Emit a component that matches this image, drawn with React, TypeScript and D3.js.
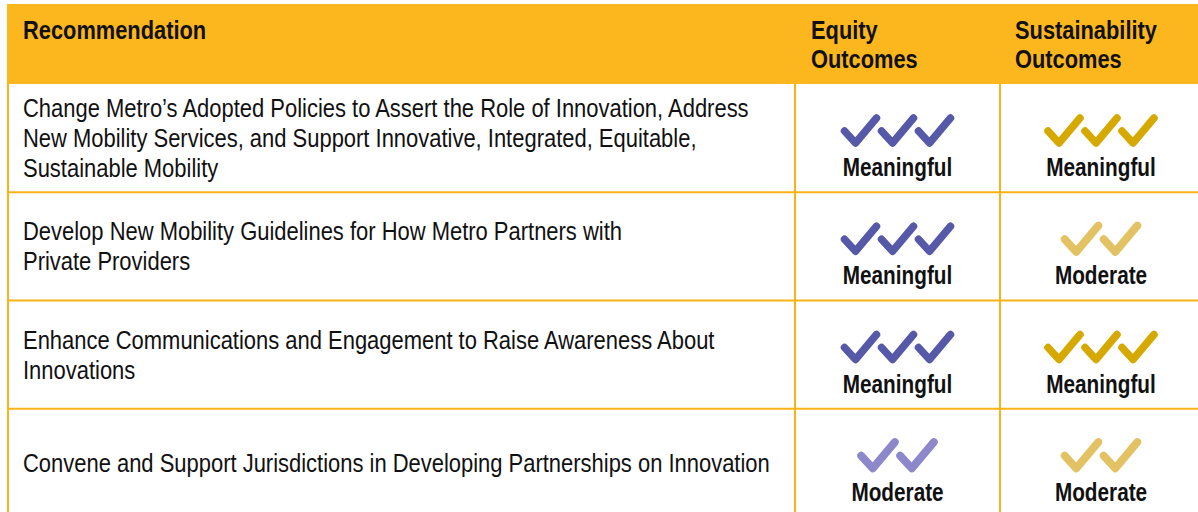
import React, { useRef, useEffect } from "react";
import * as d3 from "d3";

// table content
const headers = ["Recommendation", "Equity\nOutcomes", "Sustainability\nOutcomes"];
const recommendations = [
  [
    "Change Metro’s Adopted Policies to Assert the Role of Innovation, Address",
    "New Mobility Services, and Support Innovative, Integrated, Equitable,",
    "Sustainable Mobility",
  ],
  ["Develop New Mobility Guidelines for How Metro Partners with", "Private Providers"],
  ["Enhance Communications and Engagement to Raise Awareness About", "Innovations"],
  ["Convene and Support Jurisdictions in Developing Partnerships on Innovation"],
];
const equityLevels = ["Meaningful", "Meaningful", "Meaningful", "Moderate"];
const sustainabilityLevels = ["Meaningful", "Moderate", "Meaningful", "Moderate"];
const checkCount: Record<string, number> = { Meaningful: 3, Moderate: 2 };

const W = 1198;
const H = 512;
const ORANGE = "#fdb71e";
const LINE = "#fab317";
// no narrow face installed, so regular Liberation Sans is squeezed horizontally
const FONT = "'Liberation Sans', Arial, sans-serif";

const colors: Record<string, Record<string, string>> = {
  equity: { Meaningful: "#5658a8", Moderate: "#8d88c9" },
  sustainability: { Meaningful: "#d5a900", Moderate: "#e2c263" },
};

const App: React.FC = () => {
  const ref = useRef<SVGSVGElement | null>(null);

  useEffect(() => {
    const svg = d3.select(ref.current);
    svg.selectAll("*").remove();

    const narrowText = (
      x: number,
      y: number,
      text: string,
      size: number,
      bold: boolean,
      sx: number,
      anchor = "start"
    ) =>
      svg
        .append("text")
        .attr("transform", `translate(${x},${y}) scale(${sx},1)`)
        .attr("text-anchor", anchor)
        .attr("font-family", FONT)
        .attr("font-weight", bold ? "bold" : "normal")
        .attr("font-size", size)
        .attr("fill", "#111")
        .text(text);

    const cols = [8, 795, 1000, W];
    const headTop = 4;
    const headBottom = 84;

    const y = d3
      .scaleBand<number>()
      .domain(recommendations.map((_, i) => i))
      .range([headBottom, 517]);

    // header band
    svg
      .append("rect")
      .attr("x", 7)
      .attr("y", headTop)
      .attr("width", W - 7)
      .attr("height", headBottom - headTop)
      .attr("fill", ORANGE);

    const headerX = [23, 811, 1015];
    headers.forEach((h, i) => {
      h.split("\n").forEach((line, j) => {
        narrowText(headerX[i], 39 + j * 29, line, 26, true, 0.84);
      });
    });

    // grid lines
    const grid = svg.append("g").attr("stroke", LINE).attr("stroke-width", 2);
    recommendations.forEach((_, i) => {
      if (i === 0) return;
      grid
        .append("line")
        .attr("x1", cols[0])
        .attr("x2", W)
        .attr("y1", y(i)!)
        .attr("y2", y(i)!);
    });
    cols.slice(0, 3).forEach((cx) => {
      grid
        .append("line")
        .attr("x1", cx)
        .attr("x2", cx)
        .attr("y1", headBottom)
        .attr("y2", H);
    });

    // recommendation text, vertically centred in each row
    const lineH = 30;
    recommendations.forEach((lines, i) => {
      const mid = y(i)! + y.bandwidth() / 2;
      const first = mid - ((lines.length - 1) * lineH) / 2 + 9;
      lines.forEach((line, j) => {
        narrowText(23, first + j * lineH, line, 26, false, 0.845);
      });
    });

    // check marks
    const checkPath = "M0,0 L11,12 L32,-13";
    const drawCell = (cx: number, rowTop: number, level: string, color: string) => {
      const n = checkCount[level];
      const step = n === 3 ? 37 : 39;
      const scale = n === 3 ? 1 : 1.05;
      const total = (n - 1) * step + 32 * scale;
      const x0 = cx - total / 2;
      const g = svg.append("g");
      for (let k = 0; k < n; k++) {
        g.append("path")
          .attr("d", checkPath)
          .attr(
            "transform",
            `translate(${x0 + k * step},${rowTop + 47}) scale(${scale})`
          )
          .attr("fill", "none")
          .attr("stroke", color)
          .attr("stroke-width", 7.5)
          .attr("stroke-linecap", "round")
          .attr("stroke-linejoin", "round");
      }
      narrowText(cx, rowTop + 92, level, 25, true, 0.83, "middle");
    };

    recommendations.forEach((_, i) => {
      const top = y(i)!;
      drawCell((cols[1] + cols[2]) / 2, top, equityLevels[i], colors.equity[equityLevels[i]]);
      drawCell(
        (cols[2] + cols[3]) / 2 + 2,
        top,
        sustainabilityLevels[i],
        colors.sustainability[sustainabilityLevels[i]]
      );
    });
  }, []);

  return (
    <svg
      ref={ref}
      width={W}
      height={H}
      style={{ position: "absolute", left: 0, top: 0, background: "#fff" }}
    ></svg>
  );
};

export default App;
